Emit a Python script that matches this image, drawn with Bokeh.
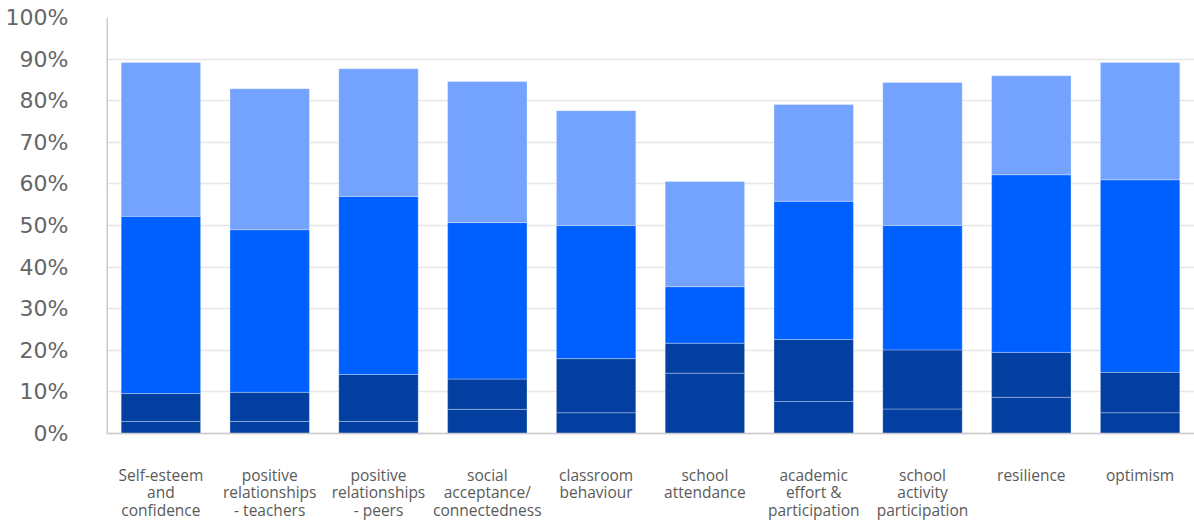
from bokeh.plotting import figure
from bokeh.models import ColumnDataSource, FactorRange, FixedTicker, PrintfTickFormatter, Range1d
from bokeh.embed import file_html
from bokeh.resources import INLINE

categories = [
    "Self-esteem\nand\nconfidence",
    "positive\nrelationships\n- teachers",
    "positive\nrelationships\n- peers",
    "social\nacceptance/\nconnectedness",
    "classroom\nbehaviour",
    "school\nattendance",
    "academic\neffort &\nparticipation",
    "school\nactivity\nparticipation",
    "resilience",
    "optimism",
]
# stacked segment values (percent)
seg1 = [2.9, 2.9, 2.9, 5.8, 5.0, 14.5, 7.7, 5.9, 8.7, 5.0]
seg2 = [6.7, 7.0, 11.3, 7.3, 13.0, 7.2, 14.9, 14.2, 10.8, 9.7]
seg3 = [42.6, 39.1, 42.8, 37.6, 32.0, 13.6, 33.2, 29.9, 42.7, 46.3]
seg4 = [37.0, 33.9, 30.7, 33.9, 27.6, 25.3, 23.3, 34.4, 23.8, 28.2]
yticks = [0, 10, 20, 30, 40, 50, 60, 70, 80, 90, 100]

W, H = 1194, 520
TOP, BOTTOM_GAP = 17, 87           # screen px above 100% / below 0%
px_per_unit = (H - TOP - BOTTOM_GAP) / 100.0
y_min = -BOTTOM_GAP / px_per_unit

source = ColumnDataSource(dict(cat=categories, s1=seg1, s2=seg2, s3=seg3, s4=seg4))

p = figure(
    x_range=FactorRange(factors=categories, range_padding=0),
    y_range=Range1d(y_min, 100),
    width=W, height=H,
    output_backend="svg", toolbar_location=None,
    min_border_left=106, min_border_right=0, min_border_top=TOP, min_border_bottom=0,
)
p.outline_line_color = None
p.xaxis.visible = False

p.xgrid.grid_line_color = None
p.ygrid.grid_line_color = "#e6e6e6"
p.ygrid.grid_line_width = 1.5

p.vbar_stack(
    ["s1", "s2", "s3", "s4"], x="cat", width=0.73, source=source,
    color=["#023fa0", "#023fa0", "#0060ff", "#74a2ff"],
    line_color="white", line_alpha=0.3, line_width=1,
)

# axis lines (left and bottom)
p.segment(x0=[0], y0=[0], x1=[0], y1=[100], line_color="#cccccc", line_width=3)
p.segment(x0=[0], y0=[0], x1=[len(categories)], y1=[0], line_color="#cccccc", line_width=1.5)

p.yaxis.ticker = FixedTicker(ticks=yticks)
p.yaxis.formatter = PrintfTickFormatter(format="%d%%")
p.yaxis.major_label_text_font = "DejaVu Sans"
p.yaxis.major_label_text_font_size = "22px"
p.yaxis.major_label_text_color = "#666666"
p.yaxis.major_label_standoff = 32
p.yaxis.major_tick_line_color = None
p.yaxis.minor_tick_line_color = None
p.yaxis.axis_line_color = None

# multi-line category labels, one text per line
lx, ly, lt = [], [], []
for cat in categories:
    for j, line in enumerate(cat.split("\n")):
        lx.append(cat)
        ly.append(-(41.0 + j * 17.5) / px_per_unit)
        lt.append(line)
p.text(x=lx, y=ly, text=lt, text_align="center", text_baseline="middle",
       text_font_size="15.5px", text_color="#5a5a5a",
       text_font={"value": "Open Sans"})

open("out.html", "w").write(file_html(p, INLINE))
